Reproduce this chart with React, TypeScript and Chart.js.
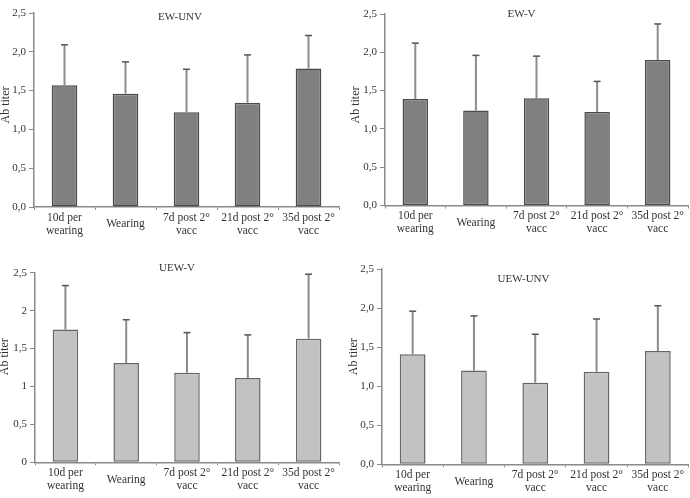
import { useEffect, useRef } from 'react';
import { Chart, registerables } from 'chart.js';

Chart.register(...registerables);

// Sampling points shared by all four groups
const categories: (string | string[])[] = [
  ['10d per', 'wearing'],
  'Wearing',
  ['7d post 2°', 'vacc'],
  ['21d post 2°', 'vacc'],
  ['35d post 2°', 'vacc'],
];

// Mean antibody titer and standard deviation per group
const ewUnvMean = [1.57, 1.46, 1.22, 1.345, 1.785];
const ewUnvSd = [0.52, 0.41, 0.555, 0.615, 0.425];

const ewVMean = [1.39, 1.24, 1.4, 1.22, 1.9];
const ewVSd = [0.73, 0.72, 0.55, 0.4, 0.47];

const uewVMean = [1.75, 1.31, 1.18, 1.11, 1.63];
const uewVSd = [0.58, 0.57, 0.53, 0.57, 0.85];

const uewUnvMean = [1.41, 1.2, 1.045, 1.185, 1.45];
const uewUnvSd = [0.55, 0.7, 0.62, 0.675, 0.58];

// Y axis tick labels (decimal comma)
const yTicksComma = ['0,0', '0,5', '1,0', '1,5', '2,0', '2,5'];
const yTicksShort = ['0', '0,5', '1', '1,5', '2', '2,5'];

const FONT = "'Liberation Serif', 'Times New Roman', serif";
const TEXT = '#333333';
const AXIS = '#8a8a8a';

type Box = { left: number; top: number; width: number; height: number };
type Plot = { left: number; top: number; right: number; bottom: number };
type Pt = { x: number; y: number };

type PanelProps = {
  title: string;
  mean: number[];
  sd: number[];
  ticks: string[];
  fill: string;
  stroke: string;
  box: Box;
  plot: Plot;
  titlePos: Pt;
  labelPos: Pt;
};

function Panel(p: PanelProps) {
  const ref = useRef<HTMLCanvasElement | null>(null);

  useEffect(() => {
    const canvas = ref.current;
    if (!canvas) return;

    const decor = {
      id: 'panelDecor',
      afterDatasetsDraw(chart: Chart) {
        const { ctx } = chart;
        const yScale = chart.scales.y;
        const meta = chart.getDatasetMeta(0);
        ctx.save();
        // error bars (mean + SD, upward only)
        meta.data.forEach((bar: any, i: number) => {
          const x = bar.x;
          const y0 = yScale.getPixelForValue(p.mean[i]);
          const y1 = yScale.getPixelForValue(p.mean[i] + p.sd[i]);
          ctx.strokeStyle = '#8c8c8c';
          ctx.lineWidth = 2;
          ctx.beginPath();
          ctx.moveTo(x, y0);
          ctx.lineTo(x, y1);
          ctx.stroke();
          ctx.strokeStyle = '#555555';
          ctx.lineWidth = 1.5;
          ctx.beginPath();
          ctx.moveTo(x - 3.5, y1);
          ctx.lineTo(x + 3.5, y1);
          ctx.stroke();
        });
        // group title
        ctx.fillStyle = TEXT;
        ctx.textAlign = 'center';
        ctx.textBaseline = 'middle';
        ctx.font = `11px ${FONT}`;
        ctx.fillText(p.title, p.titlePos.x, p.titlePos.y);
        // y axis caption
        ctx.translate(p.labelPos.x, p.labelPos.y);
        ctx.rotate(-Math.PI / 2);
        ctx.font = `12px ${FONT}`;
        ctx.fillText('Ab titer', 0, 0);
        ctx.restore();
      },
    };

    const chart = new Chart(canvas, {
      type: 'bar',
      data: {
        labels: categories,
        datasets: [
          {
            data: p.mean,
            backgroundColor: p.fill,
            borderColor: p.stroke,
            borderWidth: 1.5,
            borderSkipped: false,
            barPercentage: 0.42,
            categoryPercentage: 1,
          },
        ],
      },
      options: {
        responsive: false,
        maintainAspectRatio: false,
        animation: false,
        devicePixelRatio: 1,
        layout: {
          padding: {
            left: 0,
            top: p.plot.top,
            right: p.box.width - p.plot.right,
            bottom: 0,
          },
        },
        plugins: {
          legend: { display: false },
          tooltip: { enabled: false },
          title: { display: false },
        },
        scales: {
          x: {
            type: 'category',
            afterFit: (s: any) => {
              s.height = p.box.height - p.plot.bottom;
              s.paddingLeft = 0;
              s.paddingRight = 0;
            },
            border: { display: true, color: AXIS, width: 1.5 },
            grid: {
              display: true,
              drawOnChartArea: false,
              drawTicks: true,
              tickLength: 3,
              tickColor: AXIS,
              offset: true,
            },
            ticks: {
              color: TEXT,
              font: { family: FONT, size: 11.5, lineHeight: 1.17 },
              padding: 7.5,
              maxRotation: 0,
              autoSkip: false,
              crossAlign: 'center',
            },
          },
          y: {
            min: 0,
            max: 2.5,
            afterFit: (s: any) => {
              s.width = p.plot.left;
              s.paddingTop = 0;
              s.paddingBottom = 0;
            },
            border: { display: true, color: AXIS, width: 1.5 },
            grid: {
              display: true,
              drawOnChartArea: false,
              drawTicks: true,
              tickLength: 5,
              tickColor: AXIS,
            },
            ticks: {
              stepSize: 0.5,
              color: TEXT,
              padding: 3,
              font: { family: FONT, size: 11 },
              callback: (_v: any, i: number) => p.ticks[i],
            },
          },
        },
      },
      plugins: [decor],
    });

    return () => chart.destroy();
  }, []);

  return (
    <canvas
      ref={ref}
      width={p.box.width}
      height={p.box.height}
      style={{
        position: 'absolute',
        left: p.box.left,
        top: p.box.top,
        width: p.box.width,
        height: p.box.height,
        display: 'block',
      }}
    />
  );
}

const DARK_FILL = '#808080';
const DARK_STROKE = '#4a4a4a';
const LIGHT_FILL = '#c2c2c2';
const LIGHT_STROKE = '#666666';

export default function App() {
  return (
    <div
      style={{
        position: 'fixed',
        left: 0,
        top: 0,
        width: 690,
        height: 498,
        background: '#ffffff',
        overflow: 'hidden',
      }}
    >
      <Panel
        title="EW-UNV"
        mean={ewUnvMean}
        sd={ewUnvSd}
        ticks={yTicksComma}
        fill={DARK_FILL}
        stroke={DARK_STROKE}
        box={{ left: 0, top: 0, width: 345, height: 250 }}
        plot={{ left: 34, top: 13, right: 339, bottom: 207 }}
        titlePos={{ x: 180, y: 17 }}
        labelPos={{ x: 6, y: 105 }}
      />
      <Panel
        title="EW-V"
        mean={ewVMean}
        sd={ewVSd}
        ticks={yTicksComma}
        fill={DARK_FILL}
        stroke={DARK_STROKE}
        box={{ left: 345, top: 0, width: 345, height: 250 }}
        plot={{ left: 40, top: 14, right: 343, bottom: 205.5 }}
        titlePos={{ x: 176.5, y: 14 }}
        labelPos={{ x: 11, y: 105 }}
      />
      <Panel
        title="UEW-V"
        mean={uewVMean}
        sd={uewVSd}
        ticks={yTicksShort}
        fill={LIGHT_FILL}
        stroke={LIGHT_STROKE}
        box={{ left: 0, top: 250, width: 345, height: 248 }}
        plot={{ left: 35, top: 22.7, right: 339, bottom: 212.3 }}
        titlePos={{ x: 177, y: 18.3 }}
        labelPos={{ x: 5, y: 106.7 }}
      />
      <Panel
        title="UEW-UNV"
        mean={uewUnvMean}
        sd={uewUnvSd}
        ticks={yTicksComma}
        fill={LIGHT_FILL}
        stroke={LIGHT_STROKE}
        box={{ left: 345, top: 250, width: 345, height: 248 }}
        plot={{ left: 37, top: 19, right: 343.5, bottom: 214.3 }}
        titlePos={{ x: 178.5, y: 29.3 }}
        labelPos={{ x: 9, y: 106.7 }}
      />
    </div>
  );
}
